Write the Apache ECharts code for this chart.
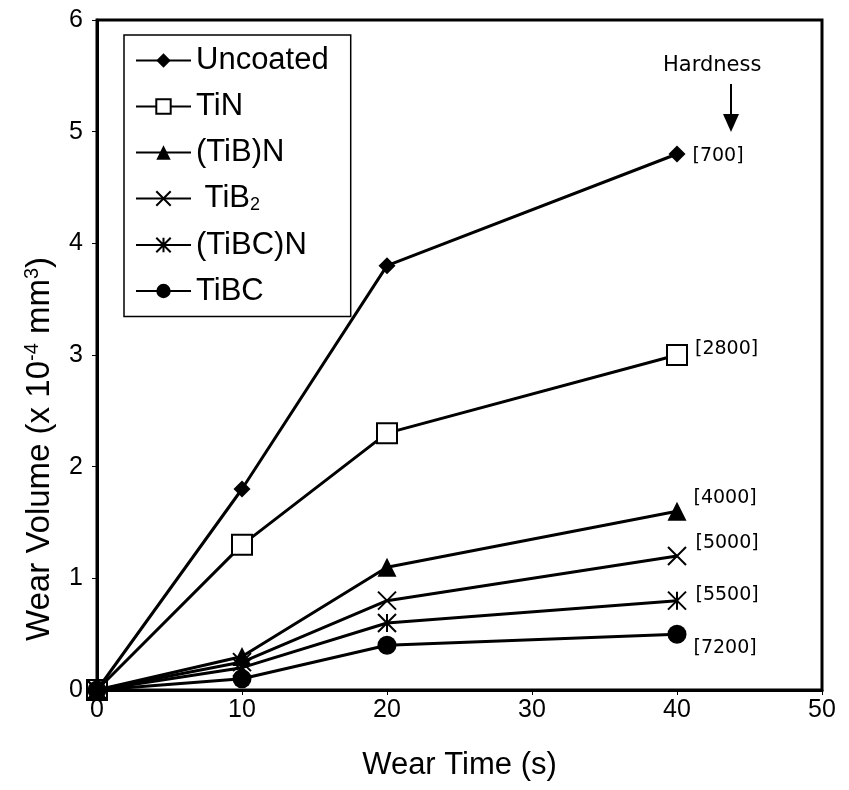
<!DOCTYPE html>
<html>
<head>
<meta charset="utf-8">
<script src="https://cdn.jsdelivr.net/npm/echarts@6/dist/echarts.min.js"></script>
<style>
  html, body { margin: 0; padding: 0; background: #fff; }
  #chart { width: 849px; height: 790px; }
</style>
</head>
<body>
<div id="chart"></div>
<script>
const wearTime = [0, 10, 20, 40];
const uncoated = [0, 1.8, 3.8, 4.8];
const tin = [0, 1.3, 2.3, 3.0];
const tibN = [0, 0.3, 1.1, 1.6];
const tib2 = [0, 0.25, 0.8, 1.2];
const tibcN = [0, 0.2, 0.6, 0.8];
const tibc = [0, 0.1, 0.4, 0.5];
const seriesNames = ["Uncoated", "TiN", "(TiB)N", "TiB2", "(TiBC)N", "TiBC"];
const hardness = ["[700]", "[2800]", "[4000]", "[5000]", "[5500]", "[7200]"];

const font = "Liberation Sans, Arial, sans-serif";
const tagFont = "DejaVu Sans, Verdana, sans-serif";
const crossPath = "path://M0,0L10,10M10,0L0,10";
const starPath = "path://M0,0L10,10M10,0L0,10M5,0L5,10";

// symbol, size, fill, label offset for hardness tag
const styles = [
  { symbol: "diamond", size: 17, fill: "#000", off: [2, 2], z: 9 },
  { symbol: "rect", size: 20, fill: "#fff", off: [2, -6], z: 3 },
  { symbol: "triangle", size: 19, fill: "#000", off: [2, -13], z: 8 },
  { symbol: crossPath, size: 18, fill: "none", off: [2, -13], z: 6 },
  { symbol: starPath, size: 18, fill: "none", off: [2, -6], z: 5 },
  { symbol: "circle", size: 19, fill: "#000", off: [2, 14], z: 7 },
];

const values = [uncoated, tin, tibN, tib2, tibcN, tibc];

const series = values.map((vals, i) => {
  const st = styles[i];
  const data = vals.map((v, j) => {
    const item = { value: [wearTime[j], v] };
    if (j === vals.length - 1) {
      item.label = {
        show: true,
        position: "right",
        offset: st.off,
        formatter: hardness[i],
        color: "#000",
        fontSize: 19,
        fontFamily: tagFont,
      };
    }
    return item;
  });
  return {
    name: seriesNames[i],
    type: "line",
    data: data,
    symbol: st.symbol,
    symbolSize: st.size,
    z: st.z,
    lineStyle: { color: "#000", width: 3 },
    itemStyle: { color: st.fill, borderColor: "#000", borderWidth: i === 0 || i === 2 || i === 5 ? 0 : 2 },
    label: { show: false },
  };
});

const chart = echarts.init(document.getElementById("chart"));
chart.setOption({
  animation: false,
  backgroundColor: "#fff",
  textStyle: { fontFamily: font },
  grid: {
    left: 97, right: 27, top: 20, bottom: 100,
    show: true, borderColor: "#000", borderWidth: 3,
  },
  legend: {
    left: 124, top: 35,
    orient: "vertical",
    data: seriesNames,
    itemWidth: 55, itemHeight: 18, itemGap: 15,
    padding: [10, 22, 10, 11],
    borderColor: "#000", borderWidth: 1.5,
    backgroundColor: "#fff",
    textStyle: {
      color: "#000", fontSize: 31, fontFamily: font,
      rich: { sub: { fontSize: 18, verticalAlign: "bottom", padding: [14, 0, 0, 0], color: "#000" } },
    },
    formatter: (n) => (n === "TiB2" ? " TiB{sub|2}" : n),
  },
  xAxis: {
    type: "value",
    min: 0, max: 50, interval: 10,
    name: "Wear Time (s)",
    nameLocation: "middle",
    nameGap: 60,
    nameTextStyle: { color: "#000", fontSize: 31, fontFamily: font },
    axisLine: { lineStyle: { color: "#000", width: 3 } },
    axisTick: { show: true, length: 5, lineStyle: { color: "#000", width: 1 } },
    axisLabel: { color: "#000", fontSize: 25, margin: 8, fontFamily: font },
    splitLine: { show: false },
  },
  yAxis: {
    type: "value",
    min: 0, max: 6, interval: 1,
    name: "Wear Volume (x 10{sup|-4} mm{sup|3})",
    nameLocation: "middle",
    nameGap: 40,
    nameRotate: 90,
    nameTextStyle: {
      color: "#000", fontSize: 33, fontFamily: font,
      padding: [0, 188, 0, 0],
      rich: { sup: { fontSize: 20, verticalAlign: "top", padding: [0, 0, 15, 0], color: "#000" } },
    },
    axisLine: { lineStyle: { color: "#000", width: 3 } },
    axisTick: { show: true, length: 5, lineStyle: { color: "#000", width: 1 } },
    axisLabel: { color: "#000", fontSize: 25, margin: 14, fontFamily: font },
    splitLine: { show: false },
  },
  graphic: [
    {
      type: "text", left: 663, top: 55,
      style: { text: "Hardness", fill: "#000", fontSize: 21, fontFamily: tagFont },
    },
    {
      type: "line", shape: { x1: 731, y1: 84, x2: 731, y2: 116 },
      style: { stroke: "#000", lineWidth: 2 },
    },
    {
      type: "polygon", shape: { points: [[723, 114], [739, 114], [731, 132]] },
      style: { fill: "#000" },
    },
  ],
  series: series,
});
</script>
</body>
</html>
